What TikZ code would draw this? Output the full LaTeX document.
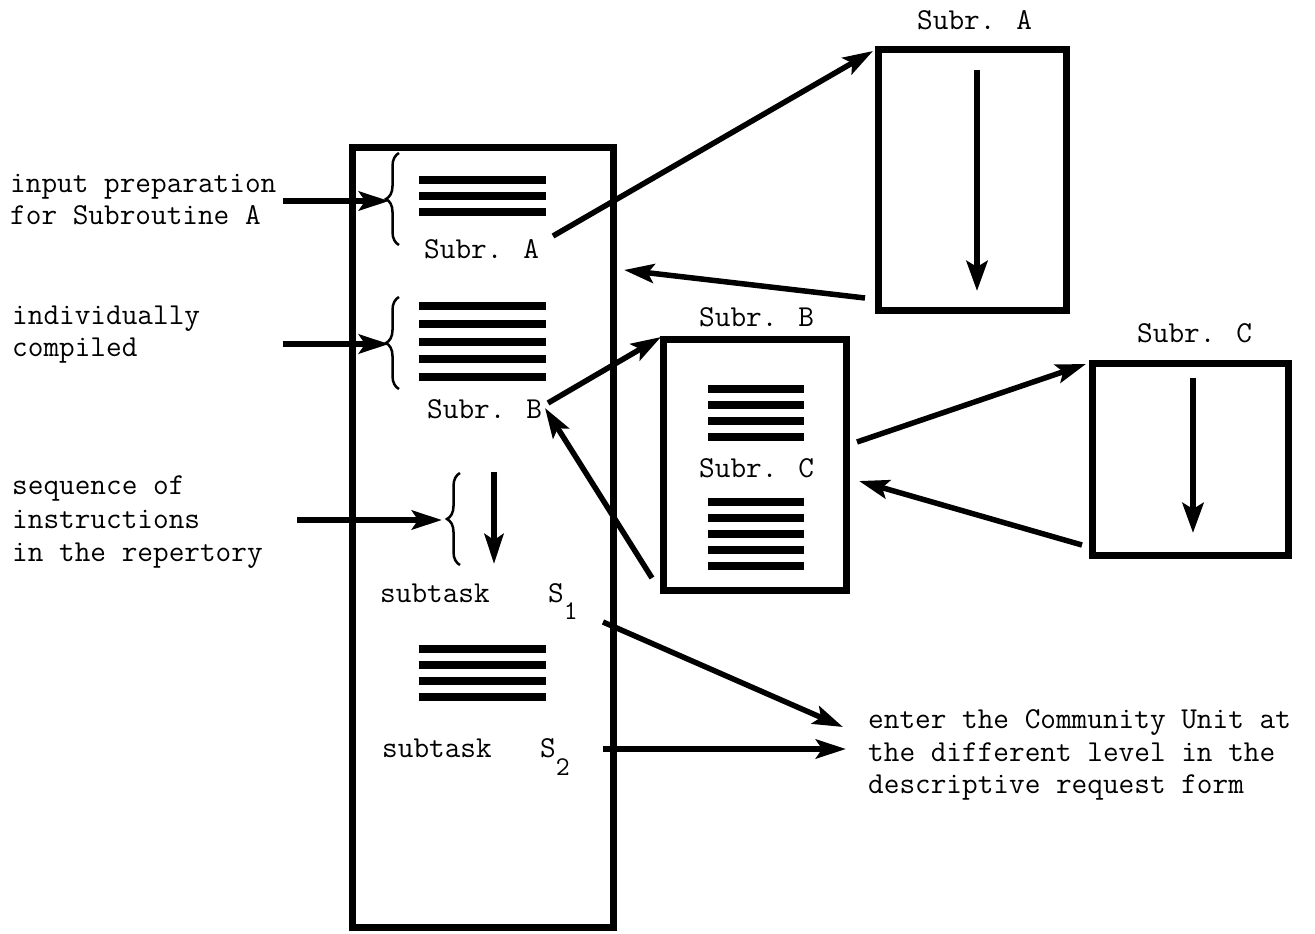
\documentclass[tikz,border=0pt]{standalone}
\usepackage{fontspec}
\usetikzlibrary{arrows.meta,decorations.pathreplacing}
\begin{document}
\begin{tikzpicture}[x=1pt,y=-1pt,
  frame/.style={draw, line width=7pt, inner sep=0pt},
  bar/.style={line width=7.5pt},
  arr/.style={line width=5.5pt,-{Stealth[length=30pt,width=19pt,inset=6pt]}},
  thinarr/.style={line width=6.5pt,-{Stealth[length=30pt,width=21pt,inset=6pt]}},
  lbl/.style={font=\ttfamily\fontsize{30.4}{33}\selectfont, anchor=base west, inner sep=0pt},
  brc/.style={decorate, decoration={brace, amplitude=13pt}, line width=2.5pt},
]
\useasboundingbox (0,0) rectangle (1315,934);

% boxes
\node[frame, minimum width=261pt, minimum height=780pt] (main) at (482.5,537) {};
\node[frame, minimum width=188pt, minimum height=260pt] (boxA) at (972,180) {};
\node[frame, minimum width=183pt, minimum height=251pt] (boxB) at (754.5,464.5) {};
\node[frame, minimum width=196pt, minimum height=192pt] (boxC) at (1190,459) {};

% bars
\foreach \y in {180,196,212} \draw[bar] (419,\y) -- (546,\y);
\foreach \y in {306,324,342,359,377} \draw[bar] (419,\y) -- (546,\y);
\foreach \y in {649,665,681,697} \draw[bar] (419,\y) -- (546,\y);
\foreach \y in {389,405,421,437} \draw[bar] (708,\y) -- (804,\y);
\foreach \y in {502,518,534,550,566} \draw[bar] (708,\y) -- (804,\y);

% braces
\draw[brc] (399,245) -- (399,153);
\draw[brc] (399,389) -- (399,297);
\draw[brc] (460,565) -- (460,473);

% labels
\node[lbl] (l1a) at (10,192) {input preparation};
\node[lbl] (l1b) at (10,224) {for Subroutine A};
\node[lbl] (l2a) at (12,324) {individually};
\node[lbl] (l2b) at (12,356) {compiled};
\node[lbl] (l3a) at (12,494) {sequence of};
\node[lbl] (l3b) at (12,528) {instructions};
\node[lbl] (l3c) at (12,561) {in the repertory};
\node[lbl] (tA) at (917,30) {Subr. A};
\node[lbl] (mA) at (424,258) {Subr. A};
\node[lbl] (mB) at (427,418) {Subr. B};
\node[lbl] (tB) at (699,326) {Subr. B};
\node[lbl] (iC) at (699,477) {Subr. C};
\node[lbl] (tC) at (1137,342) {Subr. C};
\node[lbl] (st1) at (380,602) {subtask};
\node[lbl] (s1) at (548,602) {S\raisebox{-17pt}{\fontsize{27}{27}\selectfont 1}};
\node[lbl] (st2) at (382,757) {subtask};
\node[lbl] (s2) at (540,757) {S\raisebox{-18pt}{\fontsize{27}{27}\selectfont 2}};
\node[lbl] (e1) at (868,728) {enter the Community Unit at};
\node[lbl] (e2) at (868,761) {the different level in the};
\node[lbl] (e3) at (868,793) {descriptive request form};

% connector end points
\coordinate (inA0) at (283,201);  \coordinate (inA1) at (389,201);
\coordinate (inB0) at (283,344);  \coordinate (inB1) at (389,344);
\coordinate (inC0) at (297,520);  \coordinate (inC1) at (442,520);
\coordinate (seq0) at (494,472);  \coordinate (seq1) at (494,564);
\coordinate (ca0) at (553,236);   \coordinate (ca1) at (873,51);
\coordinate (ra0) at (865,298);   \coordinate (ra1) at (624,270);
\coordinate (cb0) at (548,403);   \coordinate (cb1) at (661,337);
\coordinate (rb0) at (652,578);   \coordinate (rb1) at (545,408);
\coordinate (cc0) at (857,442);   \coordinate (cc1) at (1086,364);
\coordinate (rc0) at (1082,545);  \coordinate (rc1) at (859,481);
\coordinate (s1a) at (603,622);   \coordinate (s1b) at (843,727);
\coordinate (s2a) at (603,749);   \coordinate (s2b) at (846,749);
\coordinate (da0) at (977,70);    \coordinate (da1) at (977,291);
\coordinate (dc0) at (1193,378);  \coordinate (dc1) at (1193,533);

% connectors
\draw[arr] (inA0) -- (inA1);
\draw[arr] (inB0) -- (inB1);
\draw[arr] (inC0) -- (inC1);
\draw[arr] (seq0) -- (seq1);
\draw[arr] (ca0) -- (ca1);
\draw[arr] (ra0) -- (ra1);
\draw[arr] (cb0) -- (cb1);
\draw[arr] (rb0) -- (rb1);
\draw[arr] (cc0) -- (cc1);
\draw[arr] (rc0) -- (rc1);
\draw[arr] (s1a) -- (s1b);
\draw[arr] (s2a) -- (s2b);
\draw[thinarr] (da0) -- (da1);
\draw[thinarr] (dc0) -- (dc1);
\end{tikzpicture}
\end{document}
